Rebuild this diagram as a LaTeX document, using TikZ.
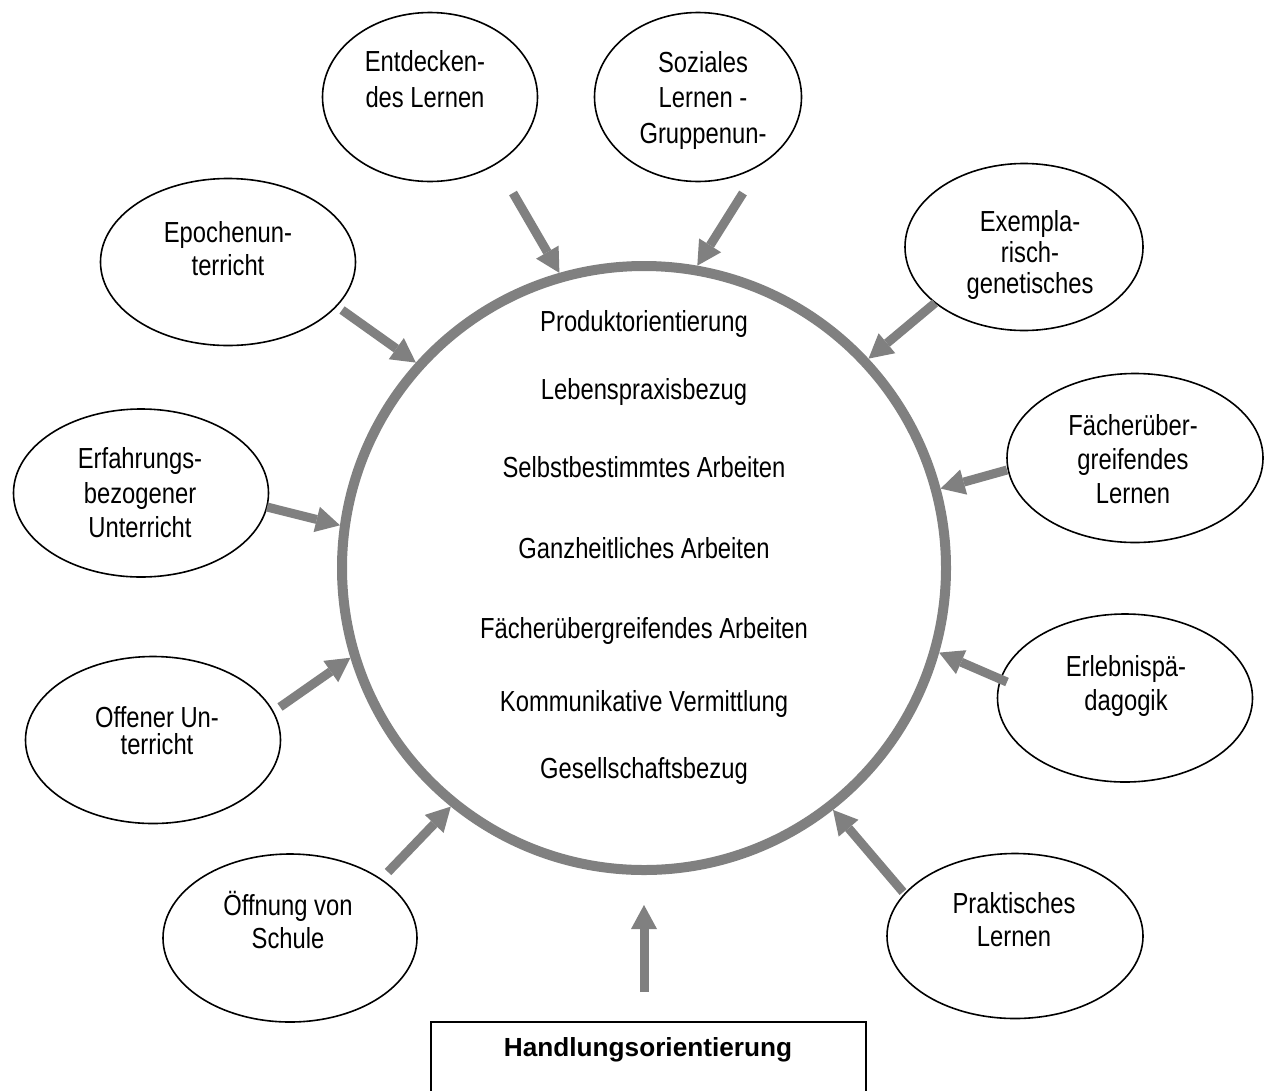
\documentclass[tikz,border=0pt]{standalone}
\usepackage{fontspec}
\setmainfont{Liberation Sans}
\newfontfamily\schmal{Liberation Sans}[FakeStretch=0.82]
\usetikzlibrary{arrows.meta,shapes.geometric}
\tikzset{
	feld/.style={draw,ellipse,line width=1.6pt,inner sep=0pt},
	txt/.style={align=center,inner sep=0pt,font=\schmal\fontsize{29}{#1}\selectfont},
	txt/.default=34,
	pfeil/.style={draw=gray,line width=9pt,-{Triangle[length=24pt,width=26pt,line width=0pt]}},
}
\begin{document}
\begin{tikzpicture}[x=1pt,y=-1pt]% 1 Einheit = 1 Pixel der Vorlage, y nach unten
		\path[fill=white,use as bounding box] (0,0) rectangle (1265,1090);
		\node[circle,draw=gray,line width=10pt,minimum size=604pt] (ring) at (644,568) {};
		\foreach \y/\t [count=\i] in {324/Produktorientierung,392/Lebenspraxisbezug,467/Selbstbestimmtes Arbeiten,548/Ganzheitliches Arbeiten,631/Fächerübergreifendes Arbeiten,704/Kommunikative Vermittlung,771/Gesellschaftsbezug}{
			\node[txt] (inhalt\i) at (644,\y) {\t};}
		
		\node[feld,minimum width=215pt,minimum height=169pt] (entdecken) at (430,97) {};
		\node[txt=36] (t-entdecken) at (425,79) {Entdecken-\\des Lernen};
		\node[feld,minimum width=207pt,minimum height=169pt] (sozial) at (698,97) {};
		\node[txt=35.5] (t-sozial) at (703,100) {Soziales\\Lernen -\\Gruppenun-};
		\node[feld,minimum width=255pt,minimum height=167pt] (epoche) at (228,262) {};
		\node[txt=33] (t-epoche) at (228,249) {Epochenun-\\terricht};
		\node[feld,minimum width=238pt,minimum height=167pt] (exempla) at (1024,247) {};
		\node[txt=31] (t-exempla) at (1030,255) {Exempla-\\risch-\\genetisches};
		\node[feld,minimum width=255pt,minimum height=168pt] (erfahrung) at (141,493) {};
		\node[txt=34.5] (t-erfahrung) at (140,493) {Erfahrungs-\\bezogener\\Unterricht};
		\node[feld,minimum width=256pt,minimum height=169pt] (faecher) at (1135,458) {};
		\node[txt=34] (t-faecher) at (1133,459.5) {Fächerüber-\\greifendes\\Lernen};
		\node[feld,minimum width=255pt,minimum height=167pt] (offen) at (153,740) {};
		\node[txt=27] (t-offen) at (157,731) {Offener Un-\\terricht};
		\node[feld,minimum width=255pt,minimum height=168pt] (erlebnis) at (1125,698) {};
		\node[txt=34] (t-erlebnis) at (1126,686) {Erlebnispä-\\dagogik};
		\node[feld,minimum width=254pt,minimum height=168pt] (oeffnung) at (290,938) {};
		\node[txt=33] (t-oeffnung) at (288,919.5) {Öffnung von\\Schule};
		\node[feld,minimum width=256pt,minimum height=165pt] (praktisch) at (1015,936) {};
		\node[txt=33] (t-praktisch) at (1014,920) {Praktisches\\Lernen};
		
		\node[draw,line width=2pt,anchor=north,minimum width=435pt,inner ysep=13pt,text height=21pt,text depth=70pt,font=\fontsize{26.2}{30}\selectfont\bfseries] (basis) at (648,1021) {Handlungsorientierung};
		
		\foreach \ax/\ay/\w [count=\i] in {513/193/106,743/193/80,342/310/138,935/303/43,267/507/172,1007/470/15,280/707/197,1007/682/344,388/872/231,903/892/308}{
			\coordinate (s\i) at (\ax,\ay);
			\draw[pfeil] (s\i) -- (ring.\w);}
		\draw[pfeil,shorten <=29pt,shorten >=30pt] (basis.north -| ring.south) -- (ring.south);
	\end{tikzpicture}
\end{document}
